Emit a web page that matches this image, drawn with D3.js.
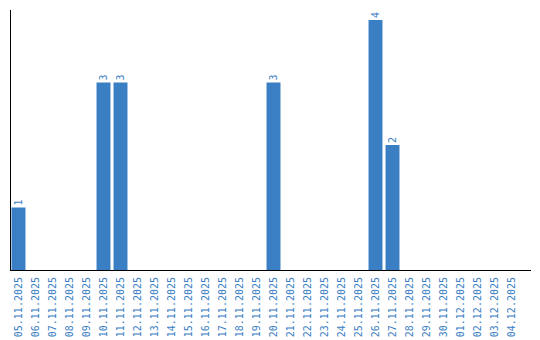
<!DOCTYPE html>
<html>
<head>
<meta charset="utf-8">
<script src="https://cdn.jsdelivr.net/npm/d3@7"></script>
<style>
  body { margin: 0; background: #fff; }
  svg text { font-family: "DejaVu Sans Mono", "Liberation Mono", monospace; }
</style>
</head>
<body>
<svg id="chart" width="540" height="340"></svg>
<script>
// one entry per day, counts
const DATES = [
  '05.11.2025', '06.11.2025', '07.11.2025', '08.11.2025', '09.11.2025',
  '10.11.2025', '11.11.2025', '12.11.2025', '13.11.2025', '14.11.2025',
  '15.11.2025', '16.11.2025', '17.11.2025', '18.11.2025', '19.11.2025',
  '20.11.2025', '21.11.2025', '22.11.2025', '23.11.2025', '24.11.2025',
  '25.11.2025', '26.11.2025', '27.11.2025', '28.11.2025', '29.11.2025',
  '30.11.2025', '01.12.2025', '02.12.2025', '03.12.2025', '04.12.2025'
];
const COUNTS = [
  1, 0, 0, 0, 0,
  3, 3, 0, 0, 0,
  0, 0, 0, 0, 0,
  3, 0, 0, 0, 0,
  0, 4, 2, 0, 0,
  0, 0, 0, 0, 0
];

const BLUE = '#3a7ec3';
const LEFT = 10, BOTTOM = 270, TOP = 10;

const data = DATES.map((d, i) => ({date: d, count: COUNTS[i]}));
const svg = d3.select('#chart');

const x = d3.scaleBand()
  .domain(DATES)
  .range([LEFT, 520])
  .paddingInner(0.18)
  .paddingOuter(0.09);

const y = d3.scaleLinear()
  .domain([0, d3.max(COUNTS)])
  .range([BOTTOM, 20]);

// bars (zero days draw nothing)
svg.selectAll('.bar').data(data.filter(d => d.count > 0))
  .enter()
  .append('rect')
  .classed('bar', true)
  .attr('x', d => x(d.date))
  .attr('y', d => y(d.count))
  .attr('width', x.bandwidth())
  .attr('height', d => y(0) - y(d.count))
  .attr('fill', BLUE);

// value labels, turned on their side above each bar
svg.selectAll('.val').data(data.filter(d => d.count > 0))
  .enter()
  .append('text')
  .classed('val', true)
  .attr('transform', d => `translate(${x(d.date) + x.bandwidth() / 2 + 3.5} ${y(d.count) - 2}) rotate(-90)`)
  .attr('font-size', 10)
  .attr('fill', BLUE)
  .text(d => d.count);

// x axis: tick labels only, plus a plain baseline
const xAxis = svg.append('g')
  .attr('transform', `translate(0 ${BOTTOM})`)
  .call(d3.axisBottom(x).tickSize(0).tickPadding(0));
xAxis.select('.domain').remove();
xAxis.selectAll('text')
  .attr('font-size', 10)
  .attr('font-family', '"DejaVu Sans Mono", monospace')
  .attr('fill', BLUE)
  .attr('text-anchor', 'end')
  .attr('dy', null)
  .attr('y', 0)
  .attr('transform', 'translate(3.5 7) rotate(-90)');

svg.append('line')
  .attr('x1', LEFT).attr('x2', 531)
  .attr('y1', BOTTOM + 0.5).attr('y2', BOTTOM + 0.5)
  .attr('stroke', 'black').attr('stroke-width', 1);

svg.append('line')
  .attr('x1', LEFT + 0.5).attr('x2', LEFT + 0.5)
  .attr('y1', TOP).attr('y2', BOTTOM)
  .attr('stroke', 'black').attr('stroke-width', 1);
</script>
</body>
</html>
